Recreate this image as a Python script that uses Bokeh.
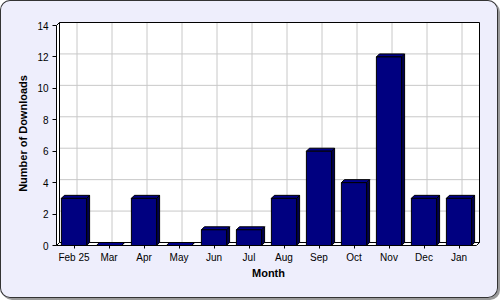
from bokeh.plotting import figure
from bokeh.models import Range1d, FixedTicker
from bokeh.embed import file_html
from bokeh.resources import INLINE

# ---- data ----
months = ["Feb 25", "Mar", "Apr", "May", "Jun", "Jul", "Aug", "Sep", "Oct", "Nov", "Dec", "Jan"]
downloads = [3, 0, 3, 0, 1, 1, 3, 6, 4, 12, 3, 3]
y_ticks = [0, 2, 4, 6, 8, 10, 12, 14]

# ---- style / geometry ----
N = len(months)
Y_MAX = y_ticks[-1]
PX_X = 35.0            # pixels per category
PX_Y = 220.0 / Y_MAX   # pixels per unit
DEPTH = 3.0            # 3D depth in pixels
dx = DEPTH / PX_X
dy = DEPTH / PX_Y
BAR_W = 0.72
NAVY = "#000080"
TOP = "#00008A"
SIDE = "#000050"
GRID = "#C8C8C8"
FONT = "Liberation Sans"

p = figure(width=498, height=298, output_backend="svg", toolbar_location=None, title=None,
           x_range=Range1d(0, N + 4 / PX_X), y_range=Range1d(0, Y_MAX + 4 / PX_Y),
           min_border_left=56, min_border_right=18, min_border_top=21, min_border_bottom=53,
           border_fill_color=None, background_fill_color=None)
p.styles = {
    "background-color": "#EEEEFC",
    "border-radius": "10px",
    "box-shadow": "inset 0 0 0 1px #333333, 2px 2px 0 0 #9A9A9A",
}
p.outline_line_color = None
p.grid.visible = False

# back wall
p.quad(left=[dx], right=[N + dx], bottom=[dy], top=[Y_MAX + dy], fill_color="white", line_color=None)
gy = [t + dy for t in y_ticks]
p.segment(x0=[dx] * len(gy), y0=gy, x1=[N + dx] * len(gy), y1=gy, line_color=GRID, line_width=1)
gx = [i + 0.5 + dx for i in range(N)]
p.segment(x0=gx, y0=[dy] * N, x1=gx, y1=[Y_MAX + dy] * N, line_color=GRID, line_width=1)
p.quad(left=[dx], right=[N + dx], bottom=[dy], top=[Y_MAX + dy], fill_color=None, line_color="black")

# left wall and floor
p.patch(x=[0, dx, dx, 0], y=[0, dy, Y_MAX + dy, Y_MAX], fill_color="white", line_color="black")
p.patch(x=[0, N, N + dx, dx], y=[0, 0, dy, dy], fill_color="white", line_color="black")

# bars
lefts = [i + 0.5 - BAR_W / 2 for i in range(N)]
rights = [i + 0.5 + BAR_W / 2 for i in range(N)]
top_xs = [[l, r, r + dx, l + dx] for l, r in zip(lefts, rights)]
top_ys = [[v, v, v + dy, v + dy] for v in downloads]
side_xs = [[r, r + dx, r + dx, r] for r in rights]
side_ys = [[0, dy, v + dy, v] for v in downloads]
p.patches(xs=side_xs, ys=side_ys, fill_color=SIDE, line_color="black", line_width=1)
p.patches(xs=top_xs, ys=top_ys, fill_color=TOP, line_color="black", line_width=1)
p.quad(left=lefts, right=rights, bottom=[0] * N, top=downloads, fill_color=NAVY, line_color="black", line_width=1)

# axes
p.xaxis.ticker = FixedTicker(ticks=[i + 0.5 for i in range(N)])
p.xaxis.major_label_overrides = {i + 0.5: m for i, m in enumerate(months)}
p.xaxis.bounds = (0, N)
p.yaxis.ticker = FixedTicker(ticks=y_ticks)
p.yaxis.bounds = (0, Y_MAX)
for ax in (p.xaxis[0], p.yaxis[0]):
    ax.axis_line_color = "black"
    ax.major_tick_line_color = "black"
    ax.minor_tick_line_color = None
    ax.major_tick_in = 0
    ax.major_label_text_font = FONT
    ax.major_label_text_font_size = "10px"
    ax.major_label_text_color = "black"
    ax.axis_label_text_font = FONT
    ax.axis_label_text_font_size = "11px"
    ax.axis_label_text_font_style = "bold"
    ax.axis_label_text_color = "black"
p.xaxis.major_tick_out = 3
p.xaxis.major_label_standoff = 3
p.xaxis.axis_label = "Month"
p.xaxis.axis_label_standoff = 1
p.yaxis.major_tick_out = 4
p.yaxis.major_label_standoff = 4
p.yaxis.axis_label = "Number of Downloads"
p.yaxis.axis_label_standoff = 5

open("out.html", "w").write(file_html(p, INLINE))
